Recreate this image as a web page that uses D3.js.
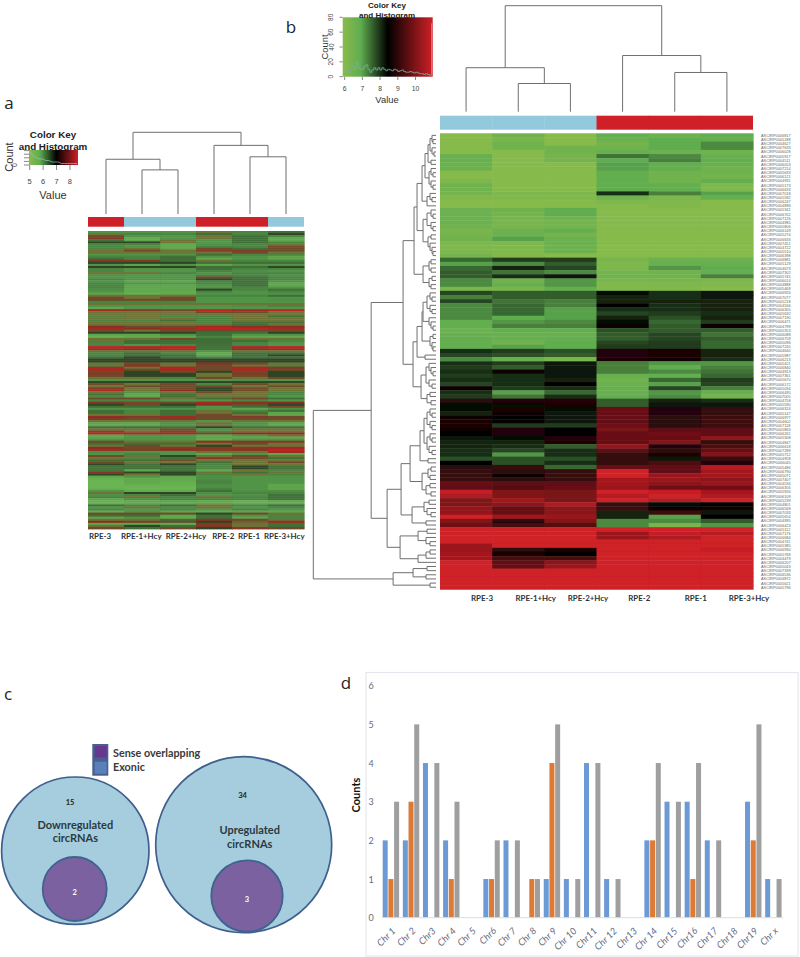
<!DOCTYPE html>
<html><head><meta charset="utf-8">
<script src="https://cdn.jsdelivr.net/npm/d3@7"></script>
<style>html,body{margin:0;background:#fff}svg{display:block}</style></head>
<body><svg id="c" width="800" height="957"></svg>
<script>
// ---------- data ----------
const sampleOrderA = ["RPE-3","RPE-1+Hcy","RPE-2+Hcy","RPE-2","RPE-1","RPE-3+Hcy"];
const sampleOrderB = ["RPE-3","RPE-1+Hcy","RPE-2+Hcy","RPE-2","RPE-1","RPE-3+Hcy"];
const groupA = ["ctrl","hcy","hcy","ctrl","ctrl","hcy"];
const groupB = ["hcy","hcy","hcy","ctrl","ctrl","ctrl"];
const heatA = [
[5.8,5.8,5.8,7.0,6.1,6.4],[7.0,6.1,6.1,6.4,6.1,6.7],[7.4,5.8,5.8,7.0,6.4,6.1],[7.8,5.5,5.8,7.0,6.4,5.6],[6.4,5.6,7.0,5.8,6.4,5.6],
[6.7,6.7,7.0,5.8,6.4,6.1],[6.1,6.1,5.6,5.9,6.1,7.0],[6.1,5.8,5.6,6.1,6.1,7.4],[6.1,7.0,5.6,7.4,6.4,7.4],[7.0,7.4,7.0,7.8,7.8,7.4],
[7.0,7.0,7.0,7.0,7.4,7.0],[5.8,5.8,5.8,6.4,6.1,6.1],[6.1,6.1,6.4,5.8,5.8,5.6],[6.4,6.1,6.4,5.6,5.8,5.6],[7.8,7.8,6.4,7.0,6.1,6.1],
[6.7,6.7,6.7,6.4,6.4,6.4],[5.8,5.6,5.8,5.6,5.8,5.8],[6.7,6.7,6.7,6.4,6.4,6.7],[6.1,5.8,5.8,6.4,6.1,6.1],[6.1,5.8,5.8,6.1,5.9,5.8],
[7.0,7.0,6.1,5.8,6.1,6.1],[5.9,5.8,5.8,6.1,6.1,5.9],[5.8,5.8,5.8,7.4,6.4,6.1],[6.1,5.8,5.8,6.7,6.4,6.1],[5.8,5.6,5.6,6.1,6.4,5.8],
[6.1,5.8,5.8,6.1,6.4,5.6],[6.1,5.6,5.6,5.8,6.4,5.6],[6.1,5.6,5.6,5.8,6.1,5.8],[5.9,5.5,5.6,6.7,6.1,6.4],[5.8,5.5,5.5,6.1,5.8,6.1],
[5.6,5.4,5.5,5.8,5.8,5.8],[7.0,7.0,7.0,6.1,6.1,6.4],[7.4,7.0,7.4,5.8,5.8,5.8],[7.4,7.4,7.4,5.8,5.8,5.9],[6.1,6.1,6.1,5.8,5.8,5.8],
[7.0,7.0,7.0,7.0,7.0,7.0],[5.8,5.8,5.8,5.8,5.9,6.1],[5.6,5.8,5.8,5.8,5.8,5.8],[8.2,7.8,7.4,8.5,8.2,8.5],[7.0,7.0,7.0,7.4,7.4,7.0],
[7.0,7.0,7.0,7.0,7.0,7.0],[6.1,7.0,6.1,6.1,7.0,6.4],[7.0,7.0,7.0,6.1,7.0,7.0],[6.1,6.1,6.4,6.1,7.0,7.0],[7.0,7.0,7.0,6.1,6.4,6.4],
[7.0,7.0,7.0,7.0,6.4,7.0],[8.0,7.4,7.4,8.2,8.0,8.0],[8.2,8.0,8.2,8.5,8.5,8.2],[7.4,7.0,7.4,7.4,7.4,7.4],[6.7,6.7,6.7,6.4,6.4,6.7],
[5.6,5.6,5.8,6.4,5.8,5.8],[5.4,5.5,5.6,6.1,5.6,5.5],[7.0,7.0,7.4,6.4,7.0,7.0],[7.0,6.4,6.4,6.4,6.4,6.1],[6.1,6.4,6.4,6.4,6.1,5.8],
[6.1,5.8,6.1,6.4,6.1,5.8],[8.5,8.3,8.5,6.4,8.2,8.5],[8.2,8.0,8.4,6.4,8.0,8.2],[7.0,7.0,7.0,5.8,7.0,7.0],[6.1,6.4,6.1,5.5,6.4,6.4],
[6.1,6.4,6.4,5.6,6.4,6.7],[6.4,6.7,6.4,6.1,6.4,6.4],[6.7,6.7,6.7,6.7,6.7,6.7],[6.7,6.7,6.7,6.7,6.7,6.7],[7.0,7.4,7.0,8.0,7.4,7.0],
[6.1,8.0,7.0,7.4,7.0,6.1],[8.3,7.0,8.3,7.4,8.3,7.8],[8.3,7.4,8.3,7.4,8.3,7.4],[7.4,6.7,7.4,6.7,7.4,6.7],[7.8,6.7,6.7,7.0,7.8,6.7],
[7.4,6.7,6.7,7.0,7.4,6.7],[7.0,7.0,6.1,7.4,7.0,7.4],[5.8,5.8,5.8,5.8,5.9,5.8],[6.7,6.7,6.7,6.7,6.7,6.7],[7.4,7.0,7.4,6.1,7.4,7.0],
[7.0,7.4,7.4,7.4,7.0,7.4],[7.8,7.0,7.4,6.7,7.4,7.0],[8.3,7.0,8.0,6.7,7.4,7.0],[7.0,5.8,7.0,7.4,7.0,6.1],[6.4,5.6,6.4,7.0,7.0,6.1],
[6.1,5.6,6.4,7.0,7.0,5.8],[7.4,7.4,7.0,6.4,7.4,6.4],[6.1,6.1,5.8,5.8,6.1,5.8],[7.8,7.4,7.4,8.2,8.0,8.0],[6.7,7.4,6.7,8.0,7.4,6.7],
[6.4,6.4,6.4,5.8,6.4,7.4],[5.8,5.8,5.8,5.8,5.6,5.9],[6.4,6.1,6.4,7.0,6.1,6.4],[6.4,6.1,6.4,7.0,6.4,5.6],[7.0,7.0,6.4,7.4,7.0,5.6],
[8.0,7.8,8.2,7.4,7.8,7.4],[7.8,7.4,7.8,7.4,7.4,7.4],[7.0,7.0,7.0,5.8,7.0,7.0],[5.6,5.6,5.8,7.0,5.8,5.6],[5.6,5.6,5.8,7.0,5.8,5.6],
[6.4,6.4,6.4,6.7,6.4,6.4],[7.0,7.0,7.4,5.8,7.0,7.0],[7.4,7.0,7.4,6.1,7.0,7.0],[8.5,8.3,8.3,7.4,8.0,8.0],[5.6,5.8,5.8,5.6,5.8,7.0],
[5.6,5.8,5.8,5.6,5.6,5.6],[5.8,5.8,5.8,5.5,5.8,5.8],[7.4,7.0,7.0,8.0,7.8,7.8],[6.4,6.4,6.4,7.0,7.4,7.0],[7.0,7.4,7.0,6.7,7.0,7.0],
[8.0,7.4,7.8,7.8,7.8,8.2],[8.2,7.8,8.0,7.8,8.0,8.5],[5.9,5.8,5.8,7.0,7.0,8.2],[5.8,6.1,5.8,5.6,5.8,5.6],[7.4,7.0,6.7,7.0,7.4,7.0],
[7.0,6.1,6.4,7.8,7.4,6.4],[6.4,6.4,7.4,7.0,7.0,7.0],[7.4,7.0,7.0,6.4,7.0,7.4],[6.7,6.4,6.7,6.1,7.0,7.0],[6.4,6.4,6.4,6.1,6.7,6.4],
[6.4,6.4,6.4,6.1,6.7,6.4],[6.4,5.6,6.4,5.6,7.0,6.1],[7.8,6.7,6.7,7.0,6.4,7.0],[6.7,7.0,6.7,6.1,7.0,6.1],[5.6,5.8,5.6,5.9,5.8,5.8],
[5.4,5.5,5.5,5.9,5.8,5.8],[5.3,5.5,5.5,6.1,5.8,5.8],[5.3,5.5,5.4,6.1,5.8,5.8],[5.3,5.4,5.4,5.9,5.8,5.6],[5.3,5.3,5.3,5.9,5.8,5.6],
[5.4,5.3,5.3,6.1,5.8,5.6],[5.8,5.5,5.5,6.4,5.9,5.9],[7.0,6.7,6.7,5.9,6.1,6.1],[5.9,6.1,6.4,5.8,5.9,6.4],[6.1,7.0,6.1,7.0,6.1,6.4],
[5.6,5.9,6.1,6.1,6.1,6.4],[5.4,5.5,5.6,5.5,5.4,5.5],[5.4,5.5,5.5,5.6,5.5,5.5],[6.4,6.1,6.4,7.0,6.1,6.4],[5.8,7.0,6.0,7.0,5.8,6.1],
[6.1,5.8,6.1,5.8,6.1,5.8],[5.5,5.8,5.6,5.5,5.6,5.6],[7.4,7.4,7.4,6.7,7.4,7.0],[6.4,6.4,5.6,6.4,5.8,6.1],[5.6,5.8,5.5,6.4,5.6,6.1],
[7.0,7.0,6.4,7.8,7.4,7.0],[8.0,7.6,7.4,6.7,7.2,8.2],[5.6,5.6,5.5,7.8,7.0,6.4],[7.0,6.7,6.4,7.8,7.0,6.4],[7.4,6.4,7.4,6.7,7.8,7.4]
];
const heatB = [
[6.0,6.5,6.0,6.8,6.6,6.8],[6.0,6.3,6.0,6.6,6.9,6.8],[6.0,6.5,6.0,6.4,6.9,7.2],[6.0,6.5,6.5,6.5,6.9,7.2],
[6.0,6.0,6.5,6.7,6.6,6.5],[6.7,6.0,6.4,7.4,7.2,6.7],[6.7,6.0,6.4,6.9,7.3,6.8],[6.6,6.0,6.0,7.0,6.8,6.7],
[6.6,6.0,6.0,7.0,6.8,6.5],[6.0,6.0,6.0,6.8,6.5,6.5],[6.0,6.0,6.0,6.8,6.5,6.4],[6.2,6.0,6.0,6.8,6.5,6.8],
[6.5,6.0,6.0,6.8,6.8,6.2],[6.5,6.0,6.0,6.9,6.8,6.2],[6.4,6.2,6.2,8.0,7.3,7.0],[6.1,6.1,6.1,6.5,6.2,6.8],
[6.0,6.0,6.0,6.2,6.1,6.0],[6.0,6.0,6.0,6.0,6.1,6.0],[6.6,6.5,6.9,6.0,6.0,6.0],[6.6,6.4,6.9,6.0,6.0,6.0],
[6.6,6.3,6.5,6.0,6.0,6.0],[6.6,6.3,6.4,6.0,6.0,6.0],[6.5,6.3,6.4,6.0,6.0,6.0],[6.3,6.6,6.8,6.0,6.0,6.0],
[6.4,6.6,6.4,6.0,6.0,6.0],[6.5,7.0,6.6,6.0,6.0,6.0],[6.2,6.2,6.6,6.0,6.0,6.0],[6.2,6.1,6.6,6.0,6.0,6.0],
[6.2,6.1,6.6,6.0,6.0,6.0],[6.4,6.1,6.0,6.0,6.0,6.0],[7.5,7.9,7.9,6.3,6.6,6.6],[7.0,7.2,7.6,6.2,6.7,6.7],
[7.5,8.1,7.8,6.2,7.1,6.9],[7.6,7.4,7.2,6.4,6.5,6.8],[7.6,8.0,8.2,6.5,6.5,7.3],[7.2,6.5,7.1,6.3,6.3,6.2],
[7.2,6.7,7.1,6.1,6.2,6.1],[6.3,6.3,6.8,6.1,6.1,6.0],[7.8,7.6,7.6,8.3,8.0,8.2],[7.3,7.6,7.6,8.1,8.0,8.2],
[7.8,7.4,7.3,8.1,8.1,8.1],[7.2,7.5,7.3,8.4,8.0,8.1],[7.2,7.5,7.0,8.0,8.0,8.1],[7.2,7.5,7.0,7.8,7.9,8.0],
[7.2,6.9,7.0,8.1,7.7,8.1],[6.8,7.1,7.2,8.3,7.5,7.9],[6.8,7.3,7.3,8.5,7.6,8.5],[6.6,6.8,6.8,7.7,7.6,7.6],
[6.7,6.7,6.7,7.6,7.8,7.4],[6.8,6.7,6.8,7.6,7.8,7.6],[6.8,6.5,6.9,7.8,7.9,7.5],[6.8,7.0,6.9,7.9,7.9,7.5],
[8.0,7.9,7.7,8.8,8.7,8.1],[7.8,7.7,7.6,8.8,8.7,8.1],[7.2,6.7,6.3,8.7,8.6,8.0],[8.0,7.9,8.2,7.3,7.1,7.1],
[7.9,7.6,8.2,7.3,6.9,7.3],[8.0,8.6,8.2,7.3,7.2,7.4],[7.9,8.0,8.2,6.7,6.8,7.5],[8.0,8.0,8.1,6.5,7.5,7.9],
[7.8,8.0,8.4,6.6,7.0,7.8],[8.5,7.9,8.0,6.7,7.8,7.3],[8.0,7.0,7.5,6.7,7.1,6.7],[7.9,7.4,8.0,6.8,7.2,6.4],
[8.9,8.8,8.8,7.6,8.1,8.0],[8.3,8.3,8.7,7.6,8.2,8.2],[8.3,8.7,8.3,9.6,8.8,9.0],[8.1,8.5,8.2,9.6,8.8,9.0],
[8.6,8.4,8.2,9.6,8.9,9.1],[8.7,8.4,8.2,9.5,8.9,9.1],[8.7,7.9,7.9,9.7,8.9,9.1],[8.5,8.8,8.4,9.8,9.5,9.5],
[8.4,8.8,8.4,9.6,9.7,9.5],[8.2,8.3,8.8,9.6,9.6,10.1],[8.1,8.1,8.7,9.6,9.9,9.0],[8.1,8.0,7.6,10.1,8.8,9.3],
[8.0,7.8,8.0,9.5,8.9,9.6],[8.0,7.1,8.0,9.0,8.7,9.9],[7.7,7.7,7.7,9.0,8.2,9.0],[8.4,7.7,8.0,9.0,9.3,8.8],
[8.9,9.0,7.5,9.6,9.5,10.5],[9.0,8.9,9.0,10.8,9.5,10.3],[9.0,8.6,9.0,10.8,10.2,10.3],[9.0,8.9,9.0,10.3,10.2,10.0],
[9.6,9.5,9.5,10.3,10.0,10.2],[9.5,9.4,9.6,10.2,9.7,9.7],[10.7,9.9,9.8,10.8,10.7,10.3],[10.4,9.9,9.8,10.5,10.8,10.4],
[9.9,10.3,9.8,10.8,10.5,10.8],[9.9,10.0,10.4,9.0,8.3,8.4],[10.1,9.6,10.0,9.1,8.5,8.6],[10.1,9.6,10.0,8.1,9.1,8.2],
[10.8,10.3,10.2,8.1,7.0,8.4],[9.9,8.9,9.9,7.2,7.2,7.6],[9.7,9.2,9.4,7.2,6.3,7.1],[10.8,10.8,10.8,10.8,10.8,10.8],
[10.8,10.8,10.8,10.2,10.7,10.5],[10.8,10.8,10.8,10.2,10.4,10.8],[10.8,10.8,10.8,10.8,10.8,10.8],[10.2,10.8,10.8,10.8,10.8,10.8],
[10.2,8.9,8.7,10.8,10.8,10.7],[10.3,8.7,8.4,10.8,10.8,10.8],[10.3,9.2,9.2,10.8,10.8,10.8],[10.8,9.5,10.0,10.8,10.8,10.8],
[10.8,9.6,10.2,10.8,10.8,10.8],[10.8,10.8,10.8,10.8,10.8,10.8],[10.8,10.8,10.8,10.8,10.8,10.8],[10.8,10.8,10.8,10.8,10.8,10.8],
[10.8,10.8,10.8,10.8,10.8,10.8],[10.8,10.8,10.8,10.8,10.8,10.8]
];
const rowIds = [6817,5188,4627,7633,6028,5917,4511,6053,7214,5633,6121,4931,5173,6633,7018,5582,6247,4896,5341,6702,
7126,4985,5806,6149,5274,6633,7451,4722,5510,6398,6881,5129,4673,7302,5745,6014,4888,5469,6926,7077,
5218,4566,6305,5632,7190,6471,4799,5353,6088,6759,5096,7245,4640,5987,6213,5421,6840,4913,7361,5670,
6172,5034,6495,7005,4758,5590,6324,5147,6977,4602,7118,5863,6261,5308,4847,6618,7289,5712,4958,6045,
5486,6790,5071,7407,4534,6356,5926,6109,5239,4801,6568,7033,5654,4995,6423,5112,7176,6684,4741,5385,
6930,5768,4479,6207,5043,7339,6536,4872,5621,5796];
// dendrograms: [height, left, right], 0 = a leaf, leaves in display order
const treeA = [100,[67,0,[54,0,0]],[84,0,[70,0,0]]];
const treeB = [100,[41.5,0,[26.6,0,0]],[53,0,[37,0,0]]];
const treeRows = [123,
 [65,
  [33,
   [22,
    [19,
     [14,
      [11,[8,[6,[4,0,[3,0,0]],[4,0,[2,0,0]]],[5,0,0]],[7,[5,0,[3,0,0]],[5,0,[3,0,0]]]],
      [9,[6,0,[4,0,0]],0]],
     [13,[9,[5,0,[3,0,0]],[5,0,[3,0,0]]],[8,[5,0,0],[6,0,[4,0,[3,0,0]]]]]],
    [13,[7,[5,0,0],[5,0,0]],[7,[4,0,0],[5,0,0]]]],
   [23,
    [19,
     [14,[13,[9,[6,0,[4,0,0]],[6,0,[4,0,0]]],[7,0,[5,0,[3,0,0]]]],[6,[3,0,0],[4,0,[3,0,0]]]],
     [11,0,0]],
    [15,[10,[7,0,[5,0,[3,0,0]]],[7,0,[4,0,0]]],[9,[6,0,0],[5,0,0]]]]],
  [49,
   [35,
    [26,
     [16,[12,[9,[6,0,[4,0,0]],[6,0,[4,0,0]]],[9,[6,0,[4,0,0]],[7,0,[4,0,0]]]],[8,0,0]],
     [14,[8,[5,0,0],[6,0,0]],[10,[6,0,0],[5,0,0]]]],
    [24,[12,[7,0,0],[9,0,[5,0,0]]],[10,0,0]]],
   [36,[18,[9,0,0],[10,0,[6,0,0]]],[18,[10,[6,0,0],0],0]]]],
 [43,[23,[9,0,0],[10,0,0]],[6,0,0]]];
const keyTicksA = [5,6,7,8];
const keyTicksB = [6,7,8,9,10];
const histCountTicks = [0,20,40,60,80];
const histB = [10,8,5,12,14,10,20,12,10,10,14,16,10,6,9,12,9,12,9,12,10,8,10,9,8,10,9,7,8,9,7,6,6,7,6,5,6,5,4,4,3,4,3,2,72];
const histA = [9,6,5,4,4,3,3,2,2,2,1,1,1,1,1,1];
const histTicksA = [0,2.4,4.8,7.2,9.6];
const chromosomes = ["Chr 1","Chr 2","Chr3","Chr 4","Chr 5","Chr6","Chr 7","Chr 8","Chr 9","Chr 10","Chr11","Chr 12","Chr13","Chr 14","Chr15","Chr16","Chr17","Chr18","Chr19","Chr x"];
const upCounts    = [2,2,4,2,0,1,2,0,1,1,4,1,0,2,3,3,2,0,3,1];
const downCounts  = [1,3,0,1,0,1,0,1,4,0,0,0,0,2,0,1,0,0,2,0];
const totalCounts = [3,5,4,3,0,2,2,1,5,1,4,1,0,4,3,4,2,0,5,1];
const countTicks = [0,1,2,3,4,5,6];
const vennLabels = ["Downregulated","circRNAs","Upregulated","circRNAs"];
const vennExonic = [15,34];
const vennSense = [2,3];
const legendLabels = ["Sense overlapping","Exonic"];

// ---------- setup ----------
const svg = d3.select("#c");
const defs = svg.append("defs");
defs.append("filter").attr("id","soft").attr("x","-2%").attr("y","-2%").attr("width","104%").attr("height","104%")
  .append("feGaussianBlur").attr("stdDeviation",0.55);
const RED="#cf2027", BLUE="#93c9dc";
const SANS="'Liberation Sans',Arial,sans-serif", CAL="Lato,'Open Sans',sans-serif";
const text=(g,x,y,s,o={})=>g.append("text").attr("x",x).attr("y",y).text(s)
  .attr("font-family",o.f||SANS).attr("font-size",o.s||10).attr("font-weight",o.w||"normal")
  .attr("font-style",o.i||"normal").attr("fill",o.c||"#222").attr("text-anchor",o.a||"middle")
  .attr("dominant-baseline","central").attr("transform",o.r!=null?`rotate(${o.r} ${x} ${y})`:null);

// panel letters
[["a",9,102],["b",291,26],["c",8,693],["d",346,682]].forEach(d=>text(svg,d[1],d[2],d[0],{f:"'Open Sans',sans-serif",s:17,c:"#222"}));

// generic dendrogram from nested [h,l,r]
function drawTree(g,tree,leafPos,hScale,horizontal){
  let next=0; const segs=[];
  (function walk(n){
    if(n===0){return {p:leafPos(next++),h:0};}
    const a=walk(n[1]),b=walk(n[2]);
    segs.push([a,b,n[0]]);
    return {p:(a.p+b.p)/2,h:n[0]};
  })(tree);
  const line=d3.line();
  g.selectAll("path").data(segs).join("path").attr("fill","none").attr("stroke","#6f6f6f").attr("stroke-width",1)
   .attr("d",([a,b,h])=>{
     const pts=[[a.p,a.h],[a.p,h],[b.p,h],[b.p,b.h]].map(([p,v])=>horizontal?[hScale(v),p]:[p,hScale(v)]);
     return line(pts);
   });
}
function heat(g,rows,x,y,color,blur){
  const gg=g.append("g").attr("filter",blur?"url(#soft)":null);
  rows.forEach((r,i)=>r.forEach((v,j)=>{
    gg.append("rect").attr("x",x(j)).attr("y",y(i)).attr("width",x.bandwidth()+.6).attr("height",y.bandwidth()+.4).attr("fill",color(v));
  }));
}

// ---------- panel a ----------
const colA=d3.scaleBand().domain(d3.range(6)).range([88,304]);
const rowA=d3.scaleBand().domain(d3.range(heatA.length)).range([231,529]);
const colorA=d3.scaleLinear().domain([5.3,5.6,5.8,6.1,6.4,6.7,7.0,7.4,8.0,8.5])
 .range(["#6ab552","#5ea54c","#519447","#488540","#3f6f37","#2e4425","#6e7235","#6f4a2a","#8e2f22","#c02124"]);
const gA=svg.append("g");
heat(gA,heatA,colA,rowA,colorA,true);
groupA.forEach((t,i)=>gA.append("rect").attr("x",colA(i)).attr("y",217).attr("width",colA.bandwidth()+(i<5?.4:0)).attr("height",9.7).attr("fill",t==="ctrl"?RED:BLUE));
drawTree(svg.append("g"),treeA,i=>colA(i)+colA.bandwidth()/2,d3.scaleLinear().domain([0,100]).range([214,132.3]),false);
sampleOrderA.forEach((s,i)=>text(svg,[100,141.3,186,223.3,249,284.3][i],536,s,{f:CAL,s:7.9,w:700,c:"#2a3238"}));

// key a
{
 const g=svg.append("g");
 const x=d3.scaleLinear().domain([4.95,8.6]).range([29,78]);
 const grad=defs.append("linearGradient").attr("id","gkA");
 [[0,"#8abb4b"],[.22,"#5fad50"],[.56,"#000"],[1,RED]].forEach(d=>grad.append("stop").attr("offset",d[0]).attr("stop-color",d[1]));
 g.append("rect").attr("x",29).attr("y",150).attr("width",49).attr("height",15).attr("fill","url(#gkA)");
 const yH=d3.scaleLinear().domain([0,10]).range([165,150]);
 const xH=d3.scaleLinear().domain([0,histA.length-1]).range([30,77]);
 g.append("path").attr("fill","none").attr("stroke","#8fc7c7").attr("stroke-width",.7).attr("d",d3.line().x((d,i)=>xH(i)).y(d=>yH(d))(histA));
 keyTicksA.forEach(t=>{
   g.append("line").attr("x1",x(t)).attr("x2",x(t)).attr("y1",165).attr("y2",170).attr("stroke","#555").attr("stroke-width",.7);
   text(g,x(t),181,t,{s:7.5,c:"#444"});
 });
 histTicksA.forEach(v=>g.append("line").attr("x1",24).attr("x2",29).attr("y1",yH(v)).attr("y2",yH(v)).attr("stroke","#555").attr("stroke-width",.7));
 text(g,53,134,"Color Key",{s:9.8,w:700,c:"#222"});
 text(g,53,146.5,"and Histogram",{s:9.8,w:700,c:"#222"});
 text(g,53,195,"Value",{s:11,c:"#333"});
 text(g,9,157,"Count",{s:11,r:-90,c:"#333"});
 text(g,14,165,"0",{s:7,r:-90,c:"#444"});
}

// ---------- panel b ----------
const colB=d3.scaleBand().domain(d3.range(6)).range([440,753]);
const rowB=d3.scaleBand().domain(d3.range(heatB.length)).range([133.3,589.3]);
const colorB=d3.scaleLinear().domain([5.9,6.9,8.4,10.8]).range(["#8abb4b","#5fad50","#000000",RED]);
const gB=svg.append("g");
heat(gB,heatB,colB,rowB,colorB,true);
groupB.forEach((t,i)=>gB.append("rect").attr("x",colB(i)).attr("y",115.7).attr("width",colB.bandwidth()+(i<5?.4:0)).attr("height",14).attr("fill",t==="ctrl"?RED:BLUE));
drawTree(svg.append("g"),treeB,i=>colB(i)+colB.bandwidth()/2,d3.scaleLinear().domain([0,100]).range([111.7,5.7]),false);
drawTree(svg.append("g"),treeRows,i=>rowB(i)+rowB.bandwidth()/2,d3.scaleLinear().domain([0,123]).range([436,313.3]),true);
sampleOrderB.forEach((s,i)=>text(svg,[482,535.7,588,639.3,695.7,749][i],597.7,s,{f:CAL,s:7.9,w:700,c:"#2a3238"}));
rowIds.forEach((id,i)=>text(svg,761,rowB(i)+rowB.bandwidth()/2,"ASCIRP000"+id,{s:3.9,a:"start",c:"#666"}));

// key b
{
 const g=svg.append("g");
 const x=d3.scaleLinear().domain([5.89,10.97]).range([342.7,432.7]);
 const y=d3.scaleLinear().domain([0,80]).range([76.7,17.3]);
 const grad=defs.append("linearGradient").attr("id","gkB");
 [[0,"#8abb4b"],[.2,"#5fad50"],[.5,"#000"],[1,RED]].forEach(d=>grad.append("stop").attr("offset",d[0]).attr("stop-color",d[1]));
 g.append("rect").attr("x",342.7).attr("y",17.3).attr("width",90).attr("height",59.4).attr("fill","url(#gkB)");
 const xH=d3.scaleLinear().domain([0,histB.length-1]).range([344,431.5]);
 g.append("path").attr("fill","none").attr("stroke","#79b0a0").attr("stroke-width",.8).attr("d",d3.line().curve(d3.curveStepAfter).x((d,i)=>xH(i)).y(d=>y(d))(histB));
 keyTicksB.forEach(t=>{
   g.append("line").attr("x1",x(t)).attr("x2",x(t)).attr("y1",76.7).attr("y2",80).attr("stroke","#555").attr("stroke-width",.7);
   text(g,x(t),88.5,t,{s:6.8,c:"#444"});
 });
 histCountTicks.forEach(t=>{
   g.append("line").attr("x1",339.5).attr("x2",342.7).attr("y1",y(t)).attr("y2",y(t)).attr("stroke","#555").attr("stroke-width",.7);
   text(g,331,y(t),t,{s:6.5,r:-90,c:"#444"});
 });
 text(g,387,5.5,"Color Key",{s:8,w:700,c:"#222"});
 text(g,387,15.5,"and Histogram",{s:8,w:700,c:"#222"});
 text(g,387,99,"Value",{s:9.4,c:"#333"});
 text(g,324.5,47,"Count",{s:9.4,r:-90,c:"#333"});
}

// ---------- panel c ----------
{
 const g=svg.append("g");
 const outer=[[75.3,850.7,73.7],[243.7,844.7,88]], inner=[[74.7,889,32],[247,896,35.7]];
 outer.forEach(c=>g.append("circle").attr("cx",c[0]).attr("cy",c[1]).attr("r",c[2]).attr("fill","#a6cddd").attr("stroke","#3f5f8e").attr("stroke-width",1.7));
 inner.forEach(c=>g.append("circle").attr("cx",c[0]).attr("cy",c[1]).attr("r",c[2]).attr("fill","#7b619f").attr("stroke","#3f6390").attr("stroke-width",1.8));
 g.append("rect").attr("x",92.3).attr("y",744).attr("width",16).attr("height",31.7).attr("fill","#47608f");
 g.append("rect").attr("x",94.7).attr("y",746).attr("width",12).attr("height",11.3).attr("fill","#66388f");
 g.append("rect").attr("x",94.7).attr("y",761.7).attr("width",12).attr("height",12).attr("fill","#5a80b9");
 text(g,113,752.3,legendLabels[0],{f:CAL,s:10.8,w:700,a:"start",c:"#3a3a3a"});
 text(g,113,766.7,legendLabels[1],{f:CAL,s:10.8,w:700,a:"start",c:"#3a3a3a"});
 text(g,70,802.5,vennExonic[0],{f:CAL,s:7.5,w:700,c:"#222"});
 text(g,242.5,795.7,vennExonic[1],{f:CAL,s:7.5,w:700,c:"#222"});
 text(g,75.3,824,vennLabels[0],{f:CAL,s:11,w:700,c:"#2b3a42"});
 text(g,75.3,837.7,vennLabels[1],{f:CAL,s:11,w:700,c:"#2b3a42"});
 text(g,249.7,829.3,vennLabels[2],{f:CAL,s:11,w:700,c:"#2b3a42"});
 text(g,249.7,843.3,vennLabels[3],{f:CAL,s:11,w:700,c:"#2b3a42"});
 text(g,74.7,892.7,vennSense[0],{f:CAL,s:7.5,w:700,c:"#fff"});
 text(g,247,899.3,vennSense[1],{f:CAL,s:7.5,w:700,c:"#fff"});
}

// ---------- panel d ----------
{
 const g=svg.append("g");
 g.append("rect").attr("x",366).attr("y",672.5).attr("width",432).attr("height",283.5).attr("fill","#fff").attr("stroke","#e6e7ee").attr("stroke-width",1.2);
 const x=d3.scaleBand().domain(chromosomes).range([380.7,783.3]);
 const y=d3.scaleLinear().domain([0,6]).range([917.7,685.7]);
 const series=[[upCounts,"#6c9ad5",2],[downCounts,"#dd7a35",7.7],[totalCounts,"#9f9f9f",13.4]];
 series.forEach(([vals,col,off])=>{
   g.selectAll(null).data(vals).join("rect").attr("x",(d,i)=>x(chromosomes[i])+off).attr("width",5)
    .attr("y",d=>y(d)).attr("height",d=>y(0)-y(d)).attr("fill",col);
 });
 g.append("line").attr("x1",381.7).attr("x2",783.3).attr("y1",917.7).attr("y2",917.7).attr("stroke","#dcdde3");
 countTicks.forEach(t=>text(g,371,y(t),t,{f:CAL,s:9,c:"#666b80"}));
 chromosomes.forEach(c=>{
   const cx=x(c)+x.bandwidth()/2+3, cy=929;
   g.append("text").attr("x",cx).attr("y",cy).text(c).attr("font-family",CAL).attr("font-size",9.5).attr("font-style","italic")
    .attr("fill","#666b80").attr("text-anchor","end").attr("dominant-baseline","central").attr("transform",`rotate(-45 ${cx} ${cy})`);
 });
 text(svg,355,795,"Counts",{f:CAL,s:11,w:700,r:-90,c:"#111"});
}
</script></body></html>
